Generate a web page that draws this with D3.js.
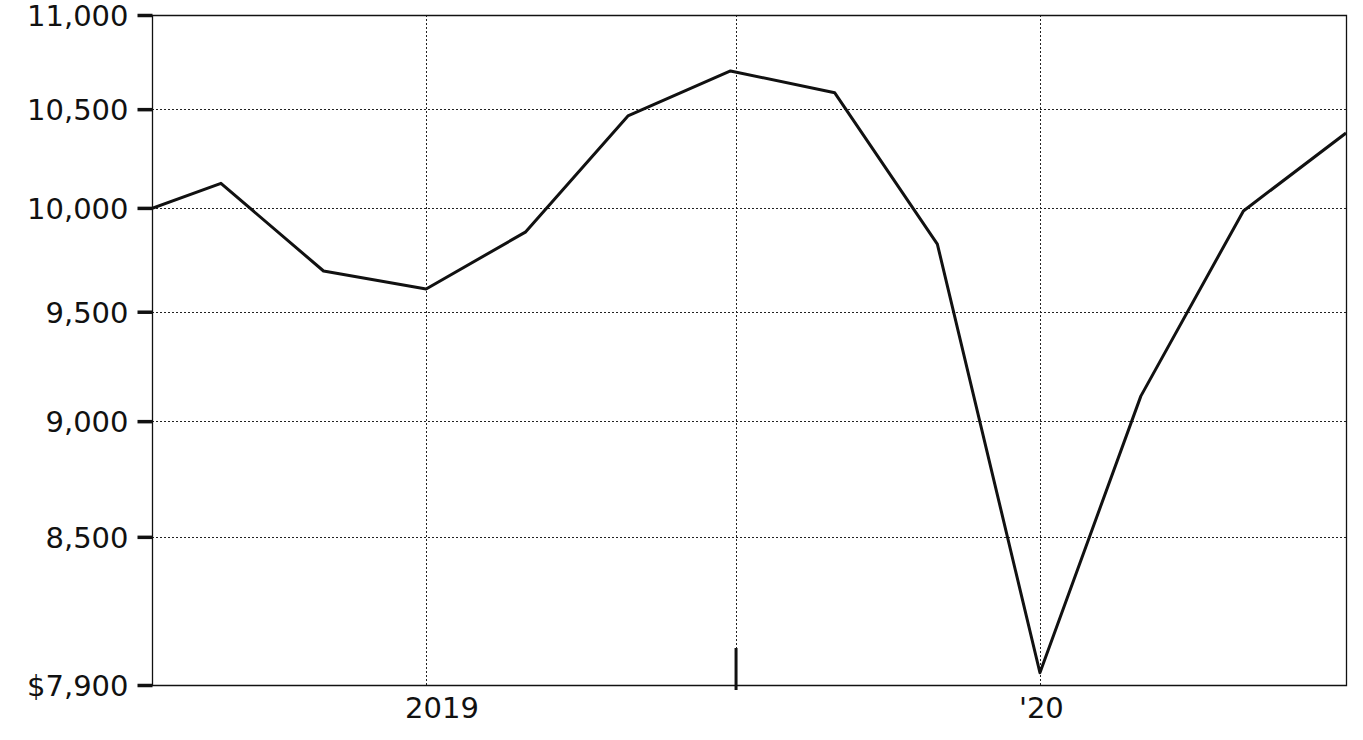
<!DOCTYPE html>
<html>
<head>
<meta charset="utf-8">
<script src="https://cdn.jsdelivr.net/npm/d3@7"></script>
<style>
  body { margin: 0; background: #fff; }
  svg text { font-family: "DejaVu Sans", Verdana, sans-serif; fill: #111; }
</style>
</head>
<body>
<svg width="1363" height="740"></svg>
<script>
// data (bimonthly values)
var dates = ["2018-07-01", "2018-09-01", "2018-11-01", "2019-01-01", "2019-03-01", "2019-05-01",
             "2019-07-01", "2019-09-01", "2019-11-01", "2020-01-01", "2020-03-01", "2020-05-01", "2020-07-01"];
var values = [9935, 10122, 9693, 9607, 9881, 10465, 10700, 10585, 9823, 7948, 9112, 9985, 10377];

var yTicks = [7900, 8500, 9000, 9500, 10000, 10500, 11000];
var xTicks = ["2019-01-01", "2020-01-01"];
var xTickLabels = ["2019", "'20"];
var markerDate = "2019-07-04";
var xDomain = ["2018-07-22", "2020-07-01"];

var parse = d3.timeParse("%Y-%m-%d");
var series = dates.map(function(d, i) { return { date: parse(d), value: values[i] }; });

var plotLeft = 152, plotRight = 1346, plotTop = 15, plotBottom = 685;

var svg = d3.select("svg");

var x = d3.scaleTime().domain(xDomain.map(parse)).range([plotLeft, plotRight]);
var y = d3.scaleLog().domain([7900, 11000]).range([plotBottom, plotTop]);

// clip for the line
svg.append("clipPath").attr("id", "plot")
    .append("rect")
    .attr("x", plotLeft).attr("y", plotTop)
    .attr("width", plotRight - plotLeft).attr("height", plotBottom - plotTop);

// horizontal grid
svg.append("g")
    .selectAll("line")
    .data(yTicks.slice(1, -1))
    .enter()
    .append("line")
    .attr("x1", plotLeft).attr("x2", plotRight)
    .attr("y1", function(d) { return Math.round(y(d)) + 0.5; })
    .attr("y2", function(d) { return Math.round(y(d)) + 0.5; })
    .attr("stroke", "#222")
    .attr("stroke-width", 1)
    .attr("stroke-dasharray", "2,2");

// vertical grid
svg.append("g")
    .selectAll("line")
    .data(xTicks.concat([markerDate]).map(parse))
    .enter()
    .append("line")
    .attr("x1", function(d) { return Math.round(x(d)) + 0.5; })
    .attr("x2", function(d) { return Math.round(x(d)) + 0.5; })
    .attr("y1", plotTop).attr("y2", plotBottom)
    .attr("stroke", "#222")
    .attr("stroke-width", 1)
    .attr("stroke-dasharray", "2,2");

// frame (top + right + bottom)
svg.append("path")
    .attr("d", "M" + plotLeft + "," + (plotTop + 0.5) + "H" + (plotRight + 0.5) + "V" + (plotBottom + 0.5) + "H" + plotLeft)
    .attr("fill", "none")
    .attr("stroke", "#111")
    .attr("stroke-width", 1.3);

// y axis
var yAxis = d3.axisLeft(y)
    .tickValues(yTicks)
    .tickSize(15)
    .tickPadding(9)
    .tickFormat(function(d) { return d == 7900 ? "$" + d3.format(",")(d) : d3.format(",")(d); });

var gy = svg.append("g")
    .attr("transform", "translate(" + (plotLeft + 0.5) + ",0)")
    .call(yAxis);
gy.select(".domain").attr("stroke", "#111").attr("stroke-width", 1.3)
    .attr("d", "M0," + plotTop + "V" + (plotBottom + 0.5));
gy.selectAll(".tick line").attr("stroke", "#111").attr("stroke-width", 3.5);
gy.selectAll(".tick text")
    .attr("font-size", 29)
    .attr("dy", "0.36em")
    .style("font-family", "DejaVu Sans, Verdana, sans-serif");

// x axis labels
var gx = svg.append("g")
    .attr("transform", "translate(0," + plotBottom + ")");
gx.selectAll("text")
    .data(xTicks)
    .enter()
    .append("text")
    .attr("x", function(d) { return x(parse(d)) - 21; })
    .attr("y", 33)
    .attr("font-size", 29)
    .attr("text-anchor", "start")
    .text(function(d, i) { return xTickLabels[i]; });

// mid-year marker tick
svg.append("line")
    .attr("x1", x(parse(markerDate)) + 0.5)
    .attr("x2", x(parse(markerDate)) + 0.5)
    .attr("y1", plotBottom - 37).attr("y2", plotBottom + 5)
    .attr("stroke", "#111")
    .attr("stroke-width", 3);

// the line
var line = d3.line()
    .x(function(d) { return x(d.date); })
    .y(function(d) { return y(d.value); });

svg.append("path")
    .datum(series)
    .attr("clip-path", "url(#plot)")
    .attr("d", line)
    .attr("fill", "none")
    .attr("stroke", "#111")
    .attr("stroke-width", 3)
    .attr("stroke-linejoin", "round");
</script>
</body>
</html>
